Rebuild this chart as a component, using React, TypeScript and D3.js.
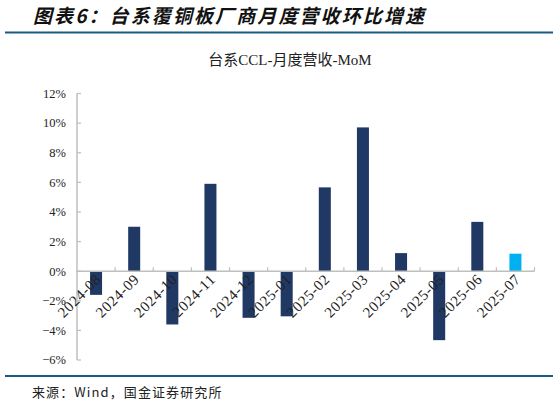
import * as d3 from 'd3';

const months = [
  '2024-08', '2024-09', '2024-10', '2024-11', '2024-12', '2025-01',
  '2025-02', '2025-03', '2025-04', '2025-05', '2025-06', '2025-07',
];
const momValues = [-1.6, 3.0, -3.6, 5.9, -3.15, -3.05, 5.66, 9.71, 1.22, -4.66, 3.33, 1.18];
const yTicks = [-6, -4, -2, 0, 2, 4, 6, 8, 10, 12];

const W = 559;
const H = 404;
const margin = { left: 77, right: 24.5, top: 93.5, bottom: 44 };

const serif = '"Liberation Serif", "DejaVu Serif", "Noto Sans CJK SC", serif';
const cjk = '"Noto Sans CJK SC", sans-serif';

export default function App() {
  const x = d3.scaleBand<string>()
    .domain(months)
    .range([margin.left, W - margin.right])
    .paddingInner(0.685)
    .paddingOuter(0.3425);

  const y = d3.scaleLinear()
    .domain([-6, 12])
    .range([H - margin.bottom, margin.top]);

  const step = x.step();
  const x0 = margin.left;
  const y0 = y(0);
  const fmt = (d: number) => `${d < 0 ? '−' : ''}${Math.abs(d)}%`;

  return (
    <svg width={W} height={H} style={{ position: 'absolute', left: 0, top: 0, background: '#fff' }}>
      <text x={33} y={23} fontFamily={cjk} fontSize={19} fontWeight={700} fontStyle="italic"
        letterSpacing={2.1} fill="#111">图表6：台系覆铜板厂商月度营收环比增速</text>
      <line x1={5} x2={553} y1={32.5} y2={32.5} stroke="#1b5a84" strokeWidth={2} />

      <text x={290} y={65} textAnchor="middle" fontFamily={serif} fontSize={15} fill="#222">
        台系CCL-月度营收-MoM
      </text>

      {/* y axis */}
      <line x1={x0} x2={x0} y1={y(12)} y2={y(-6)} stroke="#bfbfbf" strokeWidth={1.5} />
      {yTicks.map(t => (
        <g key={t}>
          <line x1={x0} x2={x0 + 4} y1={y(t)} y2={y(t)} stroke="#bfbfbf" strokeWidth={1.2} />
          <text x={66} y={y(t)} dy="0.35em" textAnchor="end" fontFamily={serif} fontSize={12.5} fill="#222">
            {fmt(t)}
          </text>
        </g>
      ))}

      {/* bars */}
      {months.map((m, i) => {
        const v = momValues[i];
        return (
          <rect key={m}
            x={x(m)}
            y={Math.min(y(v), y0)}
            width={x.bandwidth()}
            height={Math.abs(y(v) - y0)}
            fill={i === months.length - 1 ? '#00b0f0' : '#1f3864'} />
        );
      })}

      {/* zero line with category ticks */}
      <line x1={x0 - 1} x2={W - margin.right} y1={y0} y2={y0} stroke="#bfbfbf" strokeWidth={1.5} />
      {d3.range(1, months.length + 1).map(i => (
        <line key={i} x1={x0 + i * step} x2={x0 + i * step} y1={y0} y2={y0 - 4}
          stroke="#bfbfbf" strokeWidth={1.2} />
      ))}

      {months.map(m => {
        const cx = (x(m) ?? 0) + x.bandwidth() / 2 + 6;
        const cy = y0 + 9;
        return (
          <text key={m} x={cx} y={cy} textAnchor="end" fontFamily={serif} fontSize={15} letterSpacing={0.6}
            fill="#222" transform={`rotate(-45,${cx},${cy})`}>
            {m}
          </text>
        );
      })}

      <line x1={5} x2={553} y1={376} y2={376} stroke="#1b5a84" strokeWidth={2} />
      <text x={32} y={397} fontFamily={cjk} fontSize={13} letterSpacing={1.1} fill="#222">
        来源：Wind，国金证券研究所
      </text>
    </svg>
  );
}
